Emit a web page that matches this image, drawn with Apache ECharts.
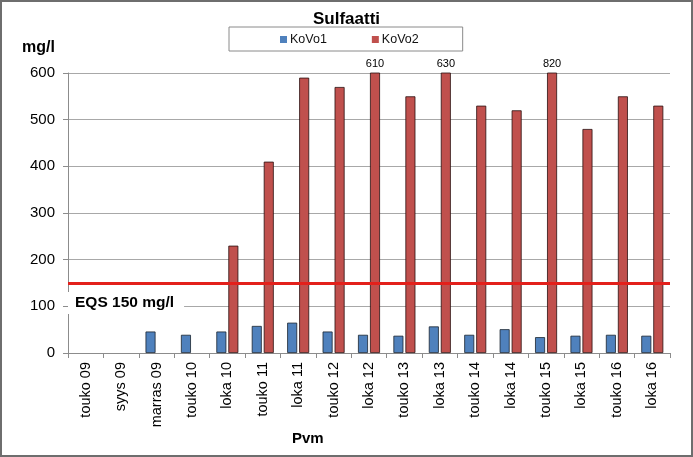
<!DOCTYPE html>
<html>
<head>
<meta charset="utf-8">
<script src="https://cdn.jsdelivr.net/npm/echarts@6/dist/echarts.min.js"></script>
<style>
html,body{margin:0;padding:0;background:#fff;}
#c{width:693px;height:457px;}
</style>
</head>
<body>
<div id="c"></div>
<script>
const categories = ['touko 09','syys 09','marras 09','touko 10','loka 10','touko 11','loka 11','touko 12','loka 12','touko 13','loka 13','touko 14','loka 14','touko 15','loka 15','touko 16','loka 16'];
const kovo1 = [null, null, 46, 39, 46, 58, 65, 46, 39, 37, 57, 39, 51, 34, 37, 39, 37];
const kovo2 = [null, null, null, null, 230, 410, 590, 570, 610, 550, 630, 530, 520, 820, 480, 550, 530];
const eqs = 150;
const yTicks = [0, 100, 200, 300, 400, 500, 600];

const chart = echarts.init(document.getElementById('c'), null, {renderer: 'canvas'});
const font = 'Liberation Sans, Arial, sans-serif';
chart.setOption({
  animation: false,
  textStyle: {fontFamily: font},
  title: [
    {text: 'Sulfaatti', left: 'center', top: 6, textStyle: {fontSize: 17, fontWeight: 'bold', color: '#000', fontFamily: font}},
    {text: 'mg/l', left: 17, top: 35, textStyle: {fontSize: 16, fontWeight: 'bold', color: '#000', fontFamily: font}},
    {text: 'Pvm', left: 287, top: 426, textStyle: {fontSize: 15, fontWeight: 'bold', color: '#000', fontFamily: font}}
  ],
  legend: {
    left: 229, top: 27,
    padding: [6, 44, 5, 51],
    itemGap: 45,
    itemWidth: 7, itemHeight: 7,
    borderColor: '#8a8a8a', borderWidth: 1,
    icon: 'rect',
    itemStyle: {borderWidth: 0},
    textStyle: {fontSize: 12.5, color: '#111', fontFamily: font, padding: [0, 0, 0, -2]},
    data: ['KoVo1', 'KoVo2']
  },
  graphic: [{
    type: 'rect', silent: true, z: 100,
    shape: {x: 1, y: 1, width: 691, height: 455},
    style: {fill: 'none', stroke: '#6e6e6e', lineWidth: 2}
  }],
  grid: {left: 68, right: 23, top: 73, bottom: 104},
  xAxis: {
    type: 'category',
    data: categories,
    axisLine: {lineStyle: {color: '#8c8c8c'}},
    axisTick: {show: true, alignWithLabel: false, length: 5, lineStyle: {color: '#8c8c8c'}},
    axisLabel: {rotate: 90, fontSize: 14.5, color: '#000', margin: 9, fontFamily: font, interval: 0}
  },
  yAxis: {
    type: 'value', min: 0, max: 600, interval: 100,
    axisLine: {show: true, lineStyle: {color: '#8c8c8c'}},
    axisTick: {show: true, length: 5, lineStyle: {color: '#8c8c8c'}},
    splitLine: {lineStyle: {color: '#a8a8a8'}},
    axisLabel: {fontSize: 15, color: '#000', margin: 13, fontFamily: font,
      formatter: v => yTicks.includes(v) ? String(v) : ''}
  },
  series: [
    {
      name: 'KoVo1', type: 'bar', data: kovo1,
      barWidth: 10, barGap: '20%',
      itemStyle: {color: '#4f81bd', borderColor: '#1b2430', borderWidth: 0.8}
    },
    {
      name: 'KoVo2', type: 'bar', data: kovo2,
      barWidth: 10, barGap: '20%',
      itemStyle: {color: '#c0504d', borderColor: '#2a1010', borderWidth: 0.8},
      label: {show: true, position: 'top', distance: 3, fontSize: 11, color: '#000', fontFamily: font,
        formatter: p => (p.value > 600 ? String(p.value) : '')},
      markLine: {
        silent: true, symbol: 'none',
        lineStyle: {color: '#e3201b', width: 3, type: 'solid'},
        label: {show: true, position: 'insideStartBottom', formatter: 'EQS ' + eqs + ' mg/l',
          fontSize: 15.5, fontWeight: 'bold', color: '#000', fontFamily: font,
          backgroundColor: '#fff', padding: [3, 10, 3, 7], distance: [0, 9]},
        data: [{yAxis: eqs}]
      }
    }
  ]
});
</script>
</body>
</html>
